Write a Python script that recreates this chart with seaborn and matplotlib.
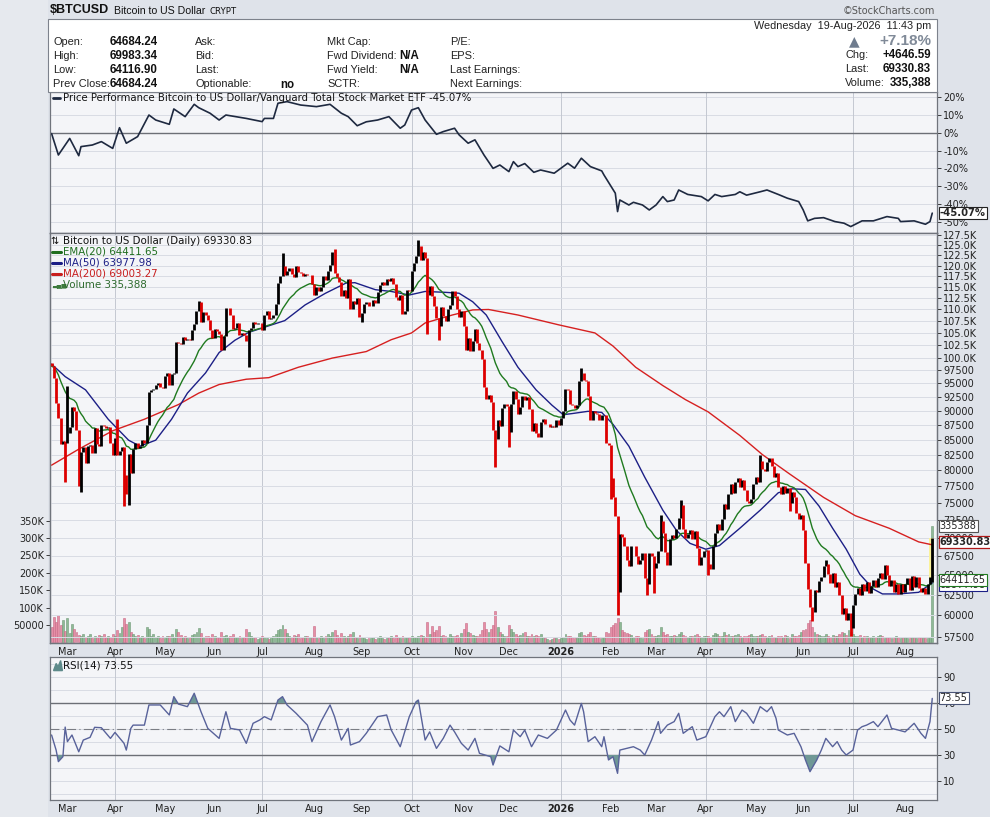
import numpy as np
import pandas as pd
import matplotlib
matplotlib.use("Agg")
import matplotlib.pyplot as plt
from matplotlib.patches import Rectangle
from matplotlib.transforms import blended_transform_factory
import seaborn as sns

# ---- daily closes (thousand USD), one list per month of trading days ----
close_2025_02 = [98.3, 96.1, 91.4, 88.7, 84.3, 84.7, 84.4]
close_2025_03 = [86.1, 87.2, 90.6, 89.9, 86.7, 78.5, 82.9, 83.7, 81.1, 83.9,
                 84.1, 82.7, 86.9, 84.2, 84.0, 87.5, 87.4, 86.9, 87.2, 84.4, 82.5]
close_2025_04 = [85.2, 82.5, 83.1, 83.8, 79.2, 76.3, 82.6, 79.6, 83.4, 84.5,
                 83.6, 84.0, 84.9, 84.5, 87.5, 93.4, 93.7, 93.9, 94.7, 95.0, 94.3, 94.2]
close_2025_05 = [96.5, 96.9, 94.7, 96.8, 97.0, 103.2, 103.0, 102.8, 104.1, 103.5,
                 103.7, 103.5, 105.6, 106.8, 109.7, 111.7, 107.3, 109.4, 108.9, 107.8, 105.6, 103.9]
close_2025_06 = [105.8, 105.4, 104.7, 101.6, 104.4, 110.3, 110.3, 108.7, 105.9, 106.1,
                 107.0, 104.6, 104.9, 104.6, 103.3, 105.6, 106.0, 107.3, 106.9, 107.1, 107.1]
close_2025_07 = [105.7, 108.8, 109.6, 108.0, 108.2, 108.9, 111.3, 115.9, 117.5, 119.8,
                 117.7, 118.7, 119.4, 117.9, 117.4, 119.9, 118.5, 118.3, 117.6, 118.0,
                 117.8, 117.8, 115.7]
close_2025_08 = [113.3, 115.0, 114.1, 115.0, 117.5, 116.7, 118.7, 120.1, 123.3, 118.3,
                 117.4, 116.2, 112.9, 114.3, 112.5, 116.9, 110.1, 111.8, 111.2, 112.5, 108.4]
close_2025_09 = [109.2, 111.2, 111.7, 110.7, 110.7, 112.1, 111.5, 113.9, 115.5, 116.1,
                 115.4, 116.8, 116.5, 117.1, 115.7, 112.7, 112.0, 113.3, 109.0, 109.7, 114.4, 114.0]
close_2025_10 = [118.6, 120.6, 122.3, 124.7, 121.4, 123.3, 121.7, 113.2, 115.3, 113.0,
                 110.8, 108.2, 106.5, 110.6, 108.5, 107.6, 110.1, 111.0, 114.1, 112.9,
                 110.0, 108.3, 109.6]
close_2025_11 = [106.5, 101.5, 103.9, 101.3, 103.3, 105.9, 103.0, 101.6, 99.7, 94.4,
                 92.2, 92.9, 91.5, 86.6, 85.1, 88.3, 87.3, 90.5, 91.3, 90.9]
close_2025_12 = [86.3, 91.3, 93.5, 92.1, 89.4, 90.6, 92.7, 92.0, 92.5, 90.3,
                 86.4, 87.8, 86.2, 85.5, 88.1, 88.5, 87.6, 87.6, 87.2, 87.3,
                 87.1, 88.4, 87.5]
close_2026_01 = [88.7, 90.0, 93.9, 93.7, 91.3, 91.0, 90.5, 91.1, 95.5, 97.0,
                 95.6, 95.5, 92.6, 88.3, 89.9, 89.6, 89.5, 88.3, 89.2, 89.3, 84.5, 84.1]
close_2026_02 = [78.7, 75.8, 73.0, 62.9, 70.5, 70.1, 68.8, 67.0, 66.2, 68.8,
                 68.8, 67.5, 66.4, 66.9, 67.9, 64.6, 63.9, 67.9, 67.5, 65.9]
close_2026_03 = [66.5, 68.2, 72.4, 70.6, 68.0, 66.3, 69.8, 70.4, 69.9, 71.2,
                 72.8, 74.6, 71.2, 69.9, 70.5, 71.0, 69.8, 70.9, 68.6, 66.3, 67.4, 68.2]
close_2026_04 = [68.3, 66.4, 65.8, 68.9, 70.6, 71.9, 71.1, 72.6, 74.8, 74.1,
                 76.3, 77.9, 76.5, 78.1, 78.8, 77.4, 78.5, 76.9, 75.3, 74.9, 75.5, 77.9]
close_2026_05 = [79.0, 78.2, 81.5, 80.2, 79.8, 81.3, 81.9, 80.6, 79.0, 79.6,
                 77.4, 76.3, 77.5, 76.5, 77.2, 75.0, 76.6, 75.8, 73.5, 72.6, 73.2]
close_2026_06 = [71.0, 66.5, 63.2, 61.0, 60.4, 63.1, 62.8, 64.2, 64.8, 66.2,
                 66.4, 65.1, 64.0, 65.3, 63.5, 64.1, 62.5, 60.2, 60.9, 59.4, 60.3, 58.5]
close_2026_07 = [61.2, 62.6, 63.4, 62.5, 63.9, 63.0, 64.1, 62.7, 63.6, 64.3,
                 63.5, 64.6, 65.2, 64.5, 66.3, 65.0, 63.6, 64.3, 62.8, 63.9,
                 62.6, 63.8, 62.9]
close_2026_08 = [63.8, 64.6, 63.1, 64.9, 63.5, 64.7, 63.3, 62.8, 63.4, 62.6,
                 63.9, 64.68424, 69.33083]

# intraday extremes that reach beyond the open-close span (bar number, value)
high_bar = [7, 29, 65, 102, 125, 162, 234, 269, 278, 313, 342, 389]
high_val = [94.5, 88.5, 111.9, 123.1, 124.1, 126.2, 97.9, 73.2, 75.4, 82.5, 67.0, 69.98334]
low_bar = [6, 12, 13, 32, 34, 87, 137, 166, 171, 196, 202, 247, 250, 263, 266, 290,
           326, 336, 353, 389]
low_val = [78.2, 77.5, 76.6, 74.5, 74.6, 98.2, 107.3, 104.8, 103.5, 80.5, 83.8, 75.5,
           60.0, 62.5, 62.7, 65.0, 73.8, 59.3, 57.6, 64.1169]

# ---- daily volume (thousands) ----
vol_2025_02 = [45, 73, 58, 79, 50, 64, 34]
vol_2025_03 = [69, 27, 53, 40, 30, 22, 18, 25, 15, 20, 24, 12, 18, 15, 22, 19, 25, 14, 20, 16, 23]
vol_2025_04 = [20, 35, 28, 45, 70, 52, 58, 30, 25, 18, 22, 15, 20, 12, 45, 38, 20, 25, 15, 18, 12, 20]
vol_2025_05 = [14, 20, 18, 25, 15, 40, 30, 22, 15, 18, 12, 16, 22, 25, 30, 42, 28, 15, 18, 20, 14, 25]
vol_2025_06 = [18, 15, 12, 30, 20, 22, 15, 18, 25, 12, 16, 20, 14, 15, 38, 30, 18, 12, 15, 10, 14]
vol_2025_07 = [18, 15, 12, 10, 15, 18, 25, 35, 40, 50, 38, 28, 20, 15, 22, 18, 25, 14, 12, 18, 20, 15, 12]
vol_2025_08 = [48, 15, 12, 18, 14, 20, 25, 18, 30, 36, 22, 15, 28, 18, 14, 20, 25, 30, 15, 12, 22]
vol_2025_09 = [15, 12, 10, 14, 12, 16, 10, 14, 18, 12, 10, 14, 16, 20, 12, 22, 15, 12, 18, 14, 12, 15]
vol_2025_10 = [18, 15, 12, 20, 22, 18, 15, 60, 25, 46, 30, 35, 46, 20, 22, 18, 15, 25, 20, 18, 22, 15, 28]
vol_2025_11 = [40, 55, 30, 28, 22, 20, 18, 25, 35, 60, 40, 30, 38, 50, 89, 45, 30, 25, 20, 18]
vol_2025_12 = [50, 40, 30, 25, 20, 22, 28, 30, 20, 18, 25, 20, 22, 18, 25, 15, 12, 10, 8, 10, 12, 14, 10]
vol_2026_01 = [12, 15, 25, 20, 18, 15, 12, 14, 28, 30, 22, 18, 25, 30, 20, 18, 15, 14, 12, 15, 30, 28]
vol_2026_02 = [45, 50, 55, 70, 60, 35, 30, 28, 25, 22, 15, 20, 18, 16, 14, 30, 35, 40, 25, 20]
vol_2026_03 = [18, 22, 45, 30, 22, 25, 20, 18, 22, 20, 25, 30, 22, 18, 15, 20, 18, 22, 25, 18, 15, 20]
vol_2026_04 = [20, 18, 15, 22, 28, 25, 20, 18, 30, 22, 25, 20, 18, 22, 25, 20, 15, 18, 20, 22, 25, 18]
vol_2026_05 = [20, 18, 22, 25, 20, 15, 18, 22, 16, 14, 20, 18, 15, 22, 18, 14, 25, 20, 18, 22, 30]
vol_2026_06 = [35, 40, 55, 65, 45, 30, 25, 22, 20, 18, 25, 20, 15, 22, 18, 20, 25, 30, 28, 22, 36, 30]
vol_2026_07 = [25, 20, 18, 22, 15, 18, 20, 14, 16, 18, 15, 20, 22, 18, 14, 16, 15, 12, 14, 18, 15, 12, 14]
vol_2026_08 = [15, 12, 14, 16, 12, 14, 15, 12, 14, 12, 14, 16, 335.388]

# ---- moving averages (bar number, thousand USD) ----
ma50_bar = [0, 6, 15, 25, 34, 39, 46, 53, 60, 68, 74, 81, 87, 94, 103, 112, 121, 130, 134, 143,
            150, 158, 165, 174, 180, 186, 192, 199, 206, 214, 221, 226, 230, 237, 243, 248,
            255, 262, 270, 276, 282, 289, 295, 304, 313, 321, 327, 333, 339, 345, 351, 357,
            363, 367, 374, 383, 389]
ma50_val = [98.7, 96.3, 93.8, 88.5, 84.9, 83.9, 84.9, 88.5, 93.2, 97.0, 101.0, 103.5, 105.1,
            106.2, 107.6, 111.0, 113.6, 115.9, 116.0, 114.4, 114.0, 113.2, 114.0, 113.8, 113.6,
            111.7, 108.8, 103.2, 98.1, 93.8, 91.0, 89.3, 89.5, 89.9, 89.7, 87.6, 83.9, 78.9,
            73.9, 71.0, 69.2, 68.4, 68.9, 71.3, 73.9, 76.5, 77.1, 77.0, 74.5, 71.3, 68.4, 65.1,
            63.2, 62.6, 62.6, 62.8, 63.98]
ma200_bar = [0, 12, 27, 41, 56, 65, 74, 86, 96, 109, 124, 139, 150, 159, 165, 177, 186, 193,
             206, 224, 240, 248, 258, 270, 280, 290, 304, 314, 326, 341, 355, 370, 383, 389]
ma200_val = [80.8, 83.4, 86.5, 88.5, 91.1, 93.2, 94.8, 95.8, 96.1, 98.1, 99.9, 101.2, 103.6,
             105.0, 107.1, 108.8, 109.9, 110.0, 108.8, 106.7, 105.0, 102.3, 98.1, 94.6, 92.0,
             89.8, 85.7, 82.5, 79.4, 75.8, 73.1, 71.3, 69.4, 69.0]

# ---- price performance vs VTI (%), sampled off the top panel ----
perf_bar = [0, 3, 8, 12, 13, 18, 22, 27, 30, 33, 38, 43, 46, 52, 54, 59, 63, 65, 70, 74,
            77, 86, 93, 94, 98, 100, 104, 110, 117, 123, 128, 131, 135, 139, 144, 149, 154, 156, 159, 162,
            165, 170, 173, 178, 180, 184, 187, 191, 195, 198, 202, 204, 206, 209, 213, 216, 222, 228, 231, 234,
            238, 243, 244, 249, 250, 251, 255, 257, 261, 264, 267, 270, 272, 275, 277, 281, 287, 290, 293, 296,
            302, 304, 307, 313, 316, 321, 325, 330, 332, 334, 337, 341, 346, 350, 353, 358, 363, 369, 374, 375,
            381, 386, 388, 389]
perf_val = [-0.5, -12.5, -3.2, -12.9, -7.8, -6.9, -5.0, -8.8, 2.8, -5.9, -2.2, 9.9, 7.1, 4.7, 13.3, 9.0, 15.9, 14.0, 10.9, 7.1,
            9.9, 8.0, 6.2, 8.0, 8.0, 16.5, 17.4, 15.5, 14.6, 15.9, 10.9, 9.0, 3.9, 6.1, 7.1, 9.0, 2.5, 4.3, 12.7, 14.0,
            7.1, -0.9, 0.6, 2.5, -1.2, -5.9, -4.0, -12.5, -20.0, -18.1, -21.8, -16.2, -19.0, -17.3, -22.2, -20.9, -22.7, -17.1, -19.9, -14.3,
            -19.0, -21.4, -23.7, -33.9, -44.2, -37.7, -40.5, -39.0, -40.5, -43.3, -40.5, -35.8, -38.6, -37.7, -32.1, -34.6, -35.8, -38.2, -34.6, -35.8,
            -34.6, -33.1, -35.0, -33.1, -32.1, -34.6, -36.7, -38.6, -43.3, -49.4, -48.0, -47.6, -49.8, -50.7, -52.6, -49.4, -49.4, -47.0, -48.0, -49.8,
            -49.4, -51.3, -49.8, -45.07]

# ---- RSI(14), sampled off the bottom panel ----
rsi_bar = [0, 2, 3, 5, 6, 7, 9, 12, 14, 17, 19, 22, 26, 28, 32, 33, 35, 36, 41, 43,
           48, 52, 54, 56, 60, 63, 66, 69, 74, 77, 79, 83, 86, 89, 92, 94, 97, 100, 102, 104,
           108, 113, 115, 119, 123, 125, 128, 131, 132, 136, 139, 144, 148, 150, 154, 158, 161, 162, 165, 167,
           170, 173, 176, 178, 181, 184, 187, 189, 194, 195, 198, 202, 204, 207, 209, 212, 215, 219, 223, 227,
           229, 231, 234, 235, 237, 240, 243, 244, 246, 248, 250, 251, 254, 257, 260, 262, 265, 268, 269, 272,
           275, 277, 279, 283, 285, 289, 293, 295, 297, 300, 302, 305, 307, 310, 313, 316, 318, 320, 321, 325,
           328, 331, 333, 335, 338, 340, 342, 345, 347, 349, 351, 354, 356, 358, 360, 363, 365, 369, 371, 374,
           377, 381, 384, 386, 388, 389]
rsi_val = [45.4, 33.8, 24.9, 28.7, 51.5, 40.3, 45.4, 32.5, 41.5, 43.6, 51.3, 51.0, 42.8, 47.4, 39.0, 33.8, 50.5, 53.0, 53.0, 68.5,
           68.5, 60.8, 74.9, 69.2, 67.2, 77.5, 63.3, 50.5, 42.8, 63.3, 50.5, 49.3, 39.0, 54.4, 57.0, 59.5, 57.0, 72.3, 74.9, 68.5,
           62.1, 53.0, 40.3, 55.7, 68.5, 59.5, 41.5, 50.5, 37.7, 40.3, 46.7, 59.5, 60.8, 49.3, 36.4, 59.5, 71.0, 72.3, 41.5, 47.8,
           35.1, 42.8, 53.0, 47.8, 39.0, 33.8, 42.8, 31.3, 28.7, 22.3, 37.0, 32.5, 49.2, 44.1, 49.2, 36.4, 45.4, 42.8, 49.2, 64.6,
           56.9, 53.0, 69.7, 63.3, 40.3, 44.1, 36.4, 44.1, 26.2, 28.7, 15.9, 33.8, 35.1, 36.4, 33.8, 30.0, 41.5, 55.7, 46.7, 53.0,
           55.7, 62.1, 46.7, 51.8, 41.5, 44.1, 59.5, 63.3, 59.5, 67.2, 55.7, 64.6, 62.1, 54.4, 67.2, 63.3, 67.2, 58.2, 49.2, 45.4,
           46.7, 36.4, 26.2, 17.2, 26.2, 33.8, 42.8, 36.4, 40.3, 33.8, 30.0, 33.8, 49.2, 51.8, 53.0, 55.7, 51.8, 60.8, 50.5, 49.2,
           47.8, 54.4, 46.7, 42.8, 55.7, 73.55]

# ---- assemble ----
closes = np.array(close_2025_02 + close_2025_03 + close_2025_04 + close_2025_05 + close_2025_06
                  + close_2025_07 + close_2025_08 + close_2025_09 + close_2025_10 + close_2025_11
                  + close_2025_12 + close_2026_01 + close_2026_02 + close_2026_03 + close_2026_04
                  + close_2026_05 + close_2026_06 + close_2026_07 + close_2026_08)
volume = np.array(vol_2025_02 + vol_2025_03 + vol_2025_04 + vol_2025_05 + vol_2025_06
                  + vol_2025_07 + vol_2025_08 + vol_2025_09 + vol_2025_10 + vol_2025_11
                  + vol_2025_12 + vol_2026_01 + vol_2026_02 + vol_2026_03 + vol_2026_04
                  + vol_2026_05 + vol_2026_06 + vol_2026_07 + vol_2026_08)
dates = pd.bdate_range("2025-02-20", "2026-08-19")
n = len(dates)
bars = np.arange(n)

opens = np.r_[closes[0] + 0.7, closes[:-1]]
hi = np.maximum(opens, closes)
lo = np.minimum(opens, closes)
for b, v in zip(high_bar, high_val):
    hi[b] = max(hi[b], v)
for b, v in zip(low_bar, low_val):
    lo[b] = min(lo[b], v)
up = closes >= opens
ema20 = pd.Series(closes).ewm(span=20, adjust=False).mean().values

# month ticks
month_pos = [i for i in range(1, n) if dates[i].month != dates[i - 1].month]
month_lab = ["2026" if dates[i].month == 1 else dates[i].strftime("%b") for i in month_pos]
quarter_pos = [i for i in month_pos if dates[i].month in (1, 4, 7, 10)]

# ---- figure ----
sns.set_style("white")
plt.rcParams["font.family"] = ["DejaVu Sans"]

W, H = 990, 817
BG = "#dfe3ea"
PANEL = "#f4f5f8"
GRID = "#d9dce4"
QGRID = "#c4c8d1"
SPINE = "#70747c"
XL = (-0.7, 391.1)
HDR = ["Liberation Sans", "DejaVu Sans"]


def box(x0, y0, x1, y1):
    return [x0 / W, 1 - y1 / H, (x1 - x0) / W, (y1 - y0) / H]


def ftext(x, y, s, **kw):
    kw.setdefault("family", HDR)
    kw.setdefault("va", "center")
    fig.text(x / W, 1 - y / H, s, **kw)


fig = plt.figure(figsize=(W / 100, H / 100), dpi=100, facecolor=BG)
fig.patches.append(Rectangle((0, 0), 48 / W, 1, transform=fig.transFigure,
                             fc="#e6e9ee", ec="none", zorder=-5))

# header
fig.patches.append(Rectangle((48 / W, 1 - 92 / H), (937 - 48) / W, (92 - 19) / H,
                             transform=fig.transFigure, fc="white", ec="#7d828c", lw=0.8))
ftext(50, 10, "$BTCUSD", fontsize=9, weight="bold", color="#111")
ftext(114, 10.5, "Bitcoin to US Dollar", fontsize=7.6, color="#111")
ftext(210, 11, "CRYPT", fontsize=6.2, color="#111", family="DejaVu Sans")
ftext(935, 11, "\u00a9StockCharts.com", fontsize=7, color="#555", ha="right", family="DejaVu Sans")
rows_y = [42, 56, 70, 84]
for y, lab, val in zip(rows_y, ["Open:", "High:", "Low:", "Prev Close:"],
                       ["64684.24", "69983.34", "64116.90", "64684.24"]):
    ftext(53, y, lab, fontsize=7.9, color="#222")
    ftext(110, y, val, fontsize=8.3, weight="bold", color="#111")
for y, lab in zip(rows_y, ["Ask:", "Bid:", "Last:", "Optionable:"]):
    ftext(195, y, lab, fontsize=7.9, color="#222")
ftext(280, rows_y[3] + 1, "no", fontsize=8.3, weight="bold", color="#111")
for y, lab in zip(rows_y, ["Mkt Cap:", "Fwd Dividend:", "Fwd Yield:", "SCTR:"]):
    ftext(327, y, lab, fontsize=7.9, color="#222")
ftext(399, rows_y[1], "N/A", fontsize=8.3, weight="bold", color="#111")
ftext(399, rows_y[2], "N/A", fontsize=8.3, weight="bold", color="#111")
for y, lab in zip(rows_y, ["P/E:", "EPS:", "Last Earnings:", "Next Earnings:"]):
    ftext(450, y, lab, fontsize=7.9, color="#222")
ftext(931, 26, "Wednesday  19-Aug-2026  11:43 pm", fontsize=7.8, color="#222", ha="right")
ftext(854, 41, "\u25b2", fontsize=10, color="#6f7c8e", ha="center", family="DejaVu Sans")
ftext(931, 41, "+7.18%", fontsize=11, color="#808a98", ha="right", weight="bold")
for y, lab, val in zip([55, 69, 83], ["Chg:", "Last:", "Volume:"],
                       ["+4646.59", "69330.83", "335,388"]):
    ftext(845, y, lab, fontsize=7.9, color="#222")
    ftext(931, y, val, fontsize=8.3, weight="bold", color="#111", ha="right")

ax_perf = fig.add_axes(box(50, 92, 937, 233))
ax_vol = fig.add_axes(box(50, 233, 937, 643))
ax_px = ax_vol.twinx()
ax_rsi = fig.add_axes(box(50, 657, 937, 800))

for ax in (ax_perf, ax_vol, ax_rsi):
    ax.set_facecolor(PANEL)
for ax in (ax_perf, ax_vol, ax_px, ax_rsi):
    ax.set_xlim(*XL)
    for s in ax.spines.values():
        s.set_color(SPINE)
        s.set_linewidth(0.9)
    ax.tick_params(axis="both", labelsize=7, colors="#222", length=3, width=0.6, pad=1.5)

# ---- performance panel ----
ax_perf.set_ylim(-56.2, 22.8)
perf_ticks = [20, 10, 0, -10, -20, -30, -40, -50]
for v in perf_ticks:
    ax_perf.axhline(v, color=GRID, lw=0.7, zorder=0)
for q in quarter_pos:
    ax_perf.axvline(q, color=QGRID, lw=0.7, zorder=0)
ax_perf.axhline(0, color="#6c6f76", lw=1.0, zorder=1)
sns.lineplot(x=perf_bar, y=perf_val, ax=ax_perf, color="#1e2940", linewidth=1.2,
             estimator=None, sort=False, legend=False)
ax_perf.yaxis.tick_right()
ax_perf.set_yticks(perf_ticks)
ax_perf.set_yticklabels([f"{v}%" for v in perf_ticks])
ax_perf.set_xticks([])
ax_perf.set_xlabel("")
ax_perf.set_ylabel("")
ax_perf.plot([0.003, 0.011], [0.957, 0.957], transform=ax_perf.transAxes, color="#1e2940", lw=2)
ax_perf.text(0.0147, 0.957, "Price Performance Bitcoin to US Dollar/Vanguard Total Stock Market ETF -45.07%",
             transform=ax_perf.transAxes, fontsize=7.3, color="#111", va="center")
ax_perf.text(1.003, -45.07, "-45.07%", transform=ax_perf.get_yaxis_transform(), fontsize=7.2,
             weight="bold", va="center", ha="left", zorder=5,
             bbox=dict(boxstyle="square,pad=0.1", fc="white", ec="#222", lw=0.8))

# ---- volume (left axis, behind price) ----
ax_vol.set_ylim(-1.5, 1176)
vol_col = np.where(up, "#8fb996", "#e58ea6")
vol_edge = np.where(up, "#6f9a77", "#c86a86")
ax_vol.bar(bars, volume, width=0.85, color=vol_col, edgecolor=vol_edge, linewidth=0.4, zorder=2)
for q in quarter_pos:
    ax_vol.axvline(q, color=QGRID, lw=0.7, zorder=0)
vol_ticks = [50, 100, 150, 200, 250, 300, 350]
ax_vol.set_yticks(vol_ticks)
ax_vol.set_yticklabels(["50000"] + [f"{v}K" for v in vol_ticks[1:]])
ax_vol.set_xticks(month_pos)
ax_vol.set_xticklabels(month_lab)
ax_vol.tick_params(axis="x", length=2, pad=1)
for t in ax_vol.get_xticklabels():
    if t.get_text() == "2026":
        t.set_fontweight("bold")

# ---- price panel (log scale, right axis) ----
ax_px.set_yscale("log")
ax_px.set_ylim(56.8, 128.0)
price_ticks = np.round(np.arange(57.5, 127.6, 2.5), 1)
for v in price_ticks:
    ax_px.axhline(v, color=GRID, lw=0.7, zorder=0)
ax_px.set_yticks(price_ticks)
ax_px.set_yticklabels([f"{v:.1f}K" if v >= 100 else f"{v * 1000:.0f}" for v in price_ticks])
ax_px.yaxis.set_minor_locator(matplotlib.ticker.NullLocator())

ax_px.add_patch(Rectangle((387.6, lo[-1]), 1.8, hi[-1] - lo[-1], fc="#fbf29a", ec="none", zorder=1))
sns.lineplot(x=ma200_bar, y=ma200_val, ax=ax_px, color="#d62020", linewidth=1.0,
             estimator=None, sort=False, legend=False)
sns.lineplot(x=ma50_bar, y=ma50_val, ax=ax_px, color="#1c1f86", linewidth=1.0,
             estimator=None, sort=False, legend=False)
sns.lineplot(x=bars, y=ema20, ax=ax_px, color="#1f7a1f", linewidth=1.0,
             estimator=None, sort=False, legend=False)
ax_px.vlines(bars, lo, hi, colors=np.where(up, "#000000", "#dd0000"), linewidth=2.0, zorder=4)
ax_px.set_xlabel("")
ax_px.set_ylabel("")
ax_px.set_xlim(*XL)

leg = [("EMA(20) 64411.65", "#1f6e1f"), ("MA(50) 63977.98", "#1c1f86"),
       ("MA(200) 69003.27", "#c81e1e")]
ax_px.text(0.0055, 0.9805, "\u21c5", transform=ax_px.transAxes, fontsize=7, va="center",
           ha="center", color="#111")
ax_px.text(0.0147, 0.9805, "Bitcoin to US Dollar (Daily) 69330.83", transform=ax_px.transAxes,
           fontsize=7.4, va="center", color="#111")
for k, (lab, col) in enumerate(leg):
    yy = 0.9537 - k * 0.0268
    ax_px.plot([0.002, 0.012], [yy, yy], transform=ax_px.transAxes, color=col, lw=2.2)
    ax_px.text(0.0147, yy, lab, transform=ax_px.transAxes, fontsize=7.4, va="center", color=col)
ax_px.text(0.0025, 0.873, "\u2583\u2585\u2586", transform=ax_px.transAxes, fontsize=4.5,
           va="center", color="#3c7a3c")
ax_px.text(0.0147, 0.873, "Volume 335,388", transform=ax_px.transAxes, fontsize=7.4,
           va="center", color="#2e6b2e")

# value tags on the right edge
ytr = ax_px.get_yaxis_transform()
tag = dict(transform=ytr, fontsize=7, va="center", ha="left")
ax_px.text(1.003, 63.7, "63977.98", zorder=5, **tag,
           bbox=dict(boxstyle="square,pad=0.1", fc="white", ec="#1c1f86", lw=0.8))
ax_px.text(1.003, 64.41165, "64411.65", zorder=6, **tag,
           bbox=dict(boxstyle="square,pad=0.1", fc="white", ec="#1f7a1f", lw=0.8))
ax_px.text(1.003, 69.33083, "69330.83", zorder=7, weight="bold", **tag,
           bbox=dict(boxstyle="square,pad=0.1", fc="white", ec="#b01818", lw=0.9))
vtr = blended_transform_factory(ax_px.transAxes, ax_vol.transData)
ax_px.text(1.003, 335.388, "335388", transform=vtr, fontsize=7, va="center", zorder=6,
           bbox=dict(boxstyle="square,pad=0.1", fc="white", ec="#555", lw=0.8))

# ---- RSI panel ----
ax_rsi.set_ylim(-4.6, 105.4)
for v in range(0, 101, 10):
    ax_rsi.axhline(v, color=GRID, lw=0.7, zorder=0)
for q in quarter_pos:
    ax_rsi.axvline(q, color=QGRID, lw=0.7, zorder=0)
ax_rsi.axhline(70, color="#6c6f76", lw=1.0, zorder=1)
ax_rsi.axhline(30, color="#6c6f76", lw=1.0, zorder=1)
ax_rsi.axhline(50, color="#7a7d84", lw=0.8, ls=(0, (8, 3, 1, 3)), zorder=1)
rb = np.array(rsi_bar, dtype=float)
rv = np.array(rsi_val)
ax_rsi.fill_between(rb, rv, 70, where=rv > 70, interpolate=True, color="#6f9896", lw=0, zorder=2)
ax_rsi.fill_between(rb, rv, 30, where=rv < 30, interpolate=True, color="#6f9896", lw=0, zorder=2)
sns.lineplot(x=rsi_bar, y=rsi_val, ax=ax_rsi, color="#58629a", linewidth=1.0,
             estimator=None, sort=False, legend=False)
ax_rsi.set_xlabel("")
ax_rsi.set_ylabel("")
ax_rsi.yaxis.tick_right()
ax_rsi.set_yticks([10, 30, 50, 70, 90])
ax_rsi.set_xticks(month_pos)
ax_rsi.set_xticklabels(month_lab)
ax_rsi.tick_params(axis="x", length=2, pad=1)
for t in ax_rsi.get_xticklabels():
    if t.get_text() == "2026":
        t.set_fontweight("bold")
ax_rsi.fill([0.004, 0.007, 0.009, 0.012, 0.014], [0.905, 0.955, 0.93, 0.975, 0.905],
            transform=ax_rsi.transAxes, color="#5d8a8a")
ax_rsi.text(0.0147, 0.944, "RSI(14) 73.55", transform=ax_rsi.transAxes, fontsize=7.4,
            va="center", color="#111")
ax_rsi.text(1.003, 73.55, "73.55", transform=ax_rsi.get_yaxis_transform(), fontsize=7,
            va="center", zorder=5, bbox=dict(boxstyle="square,pad=0.1", fc="white", ec="#4a5577", lw=0.8))

fig.savefig("out.png", dpi=100, facecolor=fig.get_facecolor())
